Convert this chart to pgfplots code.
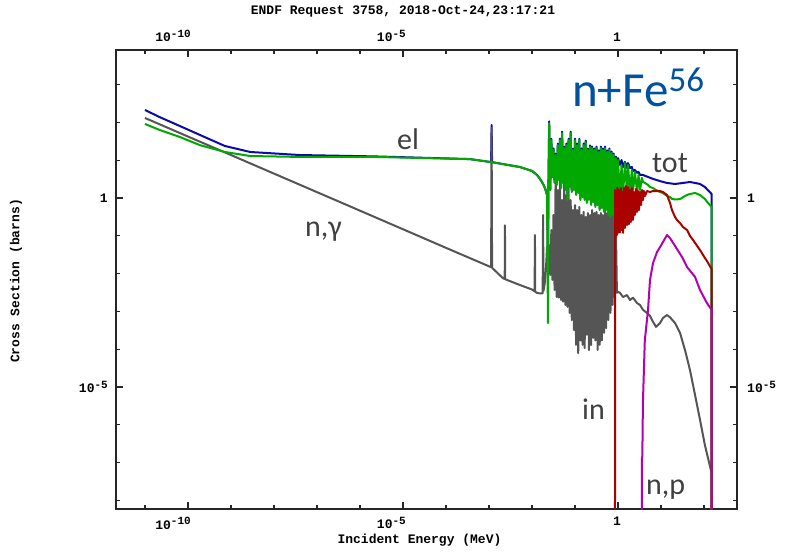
\documentclass[border=0pt]{standalone}
\usepackage{fontspec}
\usepackage{pgfplots}
\pgfplotsset{compat=1.18}
\setmainfont{Carlito}
\newfontfamily\monob{Liberation Mono}
\newfontfamily\calib{Carlito}
\definecolor{cblue}{RGB}{10,10,170}
\definecolor{cgreen}{RGB}{0,168,0}
\definecolor{cgray}{RGB}{85,85,85}
\definecolor{cred}{RGB}{170,0,0}
\definecolor{cmag}{RGB}{180,0,180}
\definecolor{ctext}{RGB}{64,64,64}
\definecolor{ctitle}{RGB}{0,82,158}
\newcommand{\ex}[1]{\raisebox{4.5pt}{\fontsize{11}{11}\selectfont #1}}
\begin{document}
\begin{tikzpicture}[x=1pt,y=1pt]
\path[use as bounding box] (0,0) rectangle (789,559);
\begin{axis}[
  at={(116pt,50pt)}, anchor=south west, scale only axis,
  width=621pt, height=459pt,
  xmode=log, ymode=log,
  xmin=2.12e-12, xmax=585, ymin=5.92e-9, ymax=8230,
  tick align=inside,
  xtick={1e-10,1e-5,1},
  xticklabels={10\ex{-10},10\ex{-5},1},
  ytick={1e-5,1},
  yticklabels={10\ex{-5},1},
  minor xtick={1e-11,1e-9,1e-8,1e-7,1e-6,1e-4,1e-3,1e-2,1e-1,10,100},
  minor ytick={1e-8,1e-7,1e-6,1e-4,1e-3,1e-2,1e-1,10,100,1000},
  major tick length=7pt, minor tick length=4.5pt,
  tick label style={font=\monob\bfseries\fontsize{13}{13}\selectfont, text=black},
  axis line style={line width=1.3pt, black!85},
  tick style={line width=1.1pt, black!85},
  xticklabel style={anchor=north east, xshift=3pt, yshift=-8pt, inner sep=0pt},
  yticklabel style={anchor=east, xshift=-8pt, inner sep=0pt},
  every axis plot/.append style={line width=2pt, line join=round},
]
% total
\addplot[cblue] coordinates {
(1e-11,213) (2.2e-11,138) (6.5e-11,80) (1.9e-10,46.5) (7.2e-10,23.8) (2.8e-9,16.5) (4e-8,13.7) (2.2e-6,12.6)
(3.6e-4,10.7) (1.05e-3,9.0) (1.12e-3,9.0) (1.15e-3,85) (1.18e-3,8.9) (2.1e-3,7.9) (5.2e-3,6.6)
(1e-2,5.2) (1.31e-2,4.06) (1.54e-2,3.2) (1.81e-2,2.35) (2.0e-2,1.84) (2.24e-2,1.2) (2.35e-2,0.016) (2.42e-2,3.2)
(0.02512,106) (0.02661,1.7) (0.02818,37) (0.02985,3.7) (0.03162,20.5) (0.0335,2.6) (0.03548,15) (0.03758,2.3)
(0.03981,27.5) (0.04217,3.1) (0.04467,37) (0.04732,1.9) (0.05012,57) (0.05309,2.6) (0.05623,23) (0.05957,1.7)
(0.0631,27.5) (0.06683,0.95) (0.07079,37) (0.07499,2.0) (0.07943,57) (0.08414,1.5) (0.08913,20.5) (0.09441,1.7)
(0.1,37) (0.1059,1.25) (0.1122,27.5) (0.1189,1.4) (0.1259,37) (0.1334,0.95) (0.1413,20.5) (0.1496,1.1)
(0.1585,27.5) (0.1679,0.95) (0.1778,33) (0.1884,0.8) (0.1995,20.5) (0.2113,0.95) (0.2239,24.6) (0.2371,0.7)
(0.2512,23) (0.2661,0.85) (0.2818,20.5) (0.2985,0.63) (0.3162,23) (0.335,0.7) (0.3548,18.2) (0.3758,0.52)
(0.3981,23) (0.4217,0.58) (0.4467,20.5) (0.4732,0.47) (0.5012,23) (0.5309,0.52) (0.5623,18.2) (0.5957,0.4)
(0.631,20.5) (0.6683,0.35) (0.7079,17) (0.7499,0.4) (0.7943,15) (0.8414,0.3) (0.8913,12.5) (0.9441,0.28) (1.0,11.4)
(1.11,7.5) (1.21,10.1) (1.31,6.6) (1.45,9.0) (1.62,6.2) (1.71,8.4) (1.90,6.2) (2.1,6.6) (2.23,5.2) (2.48,5.5)
(2.77,4.6) (3.0,4.9) (3.25,4.06) (3.81,4.06) (4.99,3.6) (6.52,3.2) (9.48,2.8) (13.8,2.5) (21.2,2.35) (32.5,2.5)
(47.2,2.65) (61.8,2.5) (80.7,2.35) (105,1.95) (150,1.28) (150,1e-10)
};
% capture
\addplot[cgray] coordinates {
(1e-11,131) (1e-10,42.3) (1e-9,13.7) (1e-8,4.42) (1e-7,1.43) (1e-6,0.462) (1e-5,0.149) (1e-4,0.048) (1e-3,0.0156)
(1.12e-3,0.0148) (1.15e-3,71) (1.18e-3,0.0142) (2.1e-3,0.0076) (2.32e-3,0.0072) (2.35e-3,0.19) (2.38e-3,0.0071)
(5.2e-3,0.005) (1.0e-2,0.0038) (1.15e-2,0.0034) (1.17e-2,0.105) (1.19e-2,0.0033) (1.31e-2,0.0031) (1.5e-2,0.003)
(1.77e-2,0.003) (1.81e-2,0.355) (1.85e-2,0.0035) (2.0e-2,0.006) (2.1e-2,0.012) (2.24e-2,0.05) (2.35e-2,0.015)
(0.02512,0.057) (0.02661,0.0091) (0.02818,0.142) (0.02985,0.0068) (0.03162,0.355) (0.0335,0.0037) (0.03548,4.6) (0.03758,0.0024)
(0.03981,1.63) (0.04217,0.0023) (0.04467,3.0) (0.04732,0.002) (0.05012,0.885) (0.05309,0.0018) (0.05623,2.5) (0.05957,0.00148)
(0.0631,1.2) (0.06683,0.00131) (0.07079,2.2) (0.07499,0.00091) (0.07943,0.885) (0.08414,0.00059) (0.08913,0.48) (0.09441,0.00032)
(0.1,0.65) (0.1059,0.00013) (0.1122,0.48) (0.1189,7.9e-5) (0.1259,0.58) (0.1334,0.00017) (0.1413,0.355) (0.1496,0.00013)
(0.1585,0.43) (0.1679,0.000107) (0.1778,0.315) (0.1884,0.00024) (0.1995,0.4) (0.2113,9.5e-5) (0.2239,0.355) (0.2371,0.00013)
(0.2512,0.48) (0.2661,0.0002) (0.2818,0.4) (0.2985,0.00017) (0.3162,0.43) (0.335,9.5e-5) (0.3548,0.355) (0.3758,0.00013)
(0.3981,0.4) (0.4217,0.00017) (0.4467,0.355) (0.4732,0.00027) (0.5012,0.48) (0.5309,0.00036) (0.5623,0.4) (0.5957,0.00059)
(0.631,0.65) (0.6683,0.00091) (0.7079,0.74) (0.7499,0.00148) (0.7943,0.355) (0.8414,0.0023) (0.8913,0.193) (0.9441,0.0031) (1.0,0.0033)
(1.11,0.0031) (1.31,0.0024) (1.62,0.0027) (1.90,0.002) (2.23,0.0023) (2.77,0.00166) (3.25,0.00148) (3.81,0.0011)
(4.72,0.00091) (5.55,0.00076) (6.52,0.00053) (7.65,0.00039) (9.48,0.00049) (11.1,0.00067) (13.8,0.0008) (16.2,0.0007)
(21.2,0.00049) (27.7,0.00027) (36.1,9.5e-5) (47.2,2.8e-5) (61.8,6.2e-6) (80.7,1.35e-6) (105,2.9e-7) (150,5.3e-8) (150,1e-10)
};
% elastic
\addplot[cgreen] coordinates {
(1e-11,91) (2.2e-11,63) (6.5e-11,41) (1.9e-10,25) (7.2e-10,16.5) (2.8e-9,12.9) (4e-8,12.2) (2.2e-6,12.2)
(3.6e-4,10.7) (1.05e-3,9.0) (2.1e-3,7.9) (5.2e-3,6.6) (1e-2,5.2) (1.31e-2,4.06) (1.54e-2,3.2) (1.81e-2,2.35)
(2e-2,1.84) (2.24e-2,1.2) (2.35e-2,4.9e-4) (2.42e-2,3.0)
(0.02512,96) (0.02661,1.63) (0.02818,34) (0.02985,3.6) (0.03162,18.6) (0.0335,2.5) (0.03548,13.7) (0.03758,2.2)
(0.03981,25) (0.04217,3.0) (0.04467,34) (0.04732,1.84) (0.05012,52) (0.05309,2.5) (0.05623,21) (0.05957,1.63)
(0.0631,25) (0.06683,0.885) (0.07079,34) (0.07499,1.95) (0.07943,52) (0.08414,1.44) (0.08913,18.6) (0.09441,1.63)
(0.1,34) (0.1059,1.2) (0.1122,25) (0.1189,1.36) (0.1259,34) (0.1334,0.885) (0.1413,18.6) (0.1496,1.06)
(0.1585,25) (0.1679,0.885) (0.1778,30) (0.1884,0.74) (0.1995,18.6) (0.2113,0.885) (0.2239,22.4) (0.2371,0.65)
(0.2512,21) (0.2661,0.78) (0.2818,18.6) (0.2985,0.58) (0.3162,21) (0.335,0.65) (0.3548,16.5) (0.3758,0.48)
(0.3981,21) (0.4217,0.54) (0.4467,18.6) (0.4732,0.43) (0.5012,21) (0.5309,0.48) (0.5623,16.5) (0.5957,0.355)
(0.631,18.6) (0.6683,0.315) (0.7079,15.5) (0.7499,0.355) (0.7943,13.7) (0.8414,0.262) (0.8913,11.4) (0.9441,0.24) (1.0,10.1)
(1.11,1.2) (1.21,7.5) (1.31,1.2) (1.45,8.4) (1.62,1.44) (1.71,7.5) (1.90,1.44) (2.1,5.5) (2.23,1.44) (2.48,4.9)
(2.77,1.44) (3.0,4.06) (3.25,1.63) (3.6,3.4) (3.81,2.65) (4.25,2.5) (4.99,2.2) (5.55,1.95) (6.52,1.84) (7.65,1.63)
(9.48,1.44) (11.1,1.36) (13.8,1.13) (16.2,1.06) (18,0.94) (21.2,0.92) (23.5,0.92) (27.7,0.94) (32.5,1.05) (36.1,1.13)
(40.3,1.2) (47.2,1.28) (55.5,1.32) (61.8,1.36) (80.7,1.2) (105,0.94) (117,0.8) (150,0.58) (150,1e-10)
};
% inelastic
\addplot[cred] coordinates {
(0.851,1e-10) (0.853,1.63) (0.88,0.093) (0.91,1.44) (0.94,0.105) (0.97,1.84) (1.0,0.119) (1.05,1.63) (1.11,0.122)
(1.16,1.84) (1.21,0.142) (1.26,1.44) (1.31,0.119) (1.38,1.84) (1.45,0.161) (1.53,2.07) (1.62,0.193) (1.71,1.95)
(1.80,0.205) (1.90,1.63) (2.0,0.232) (2.1,1.84) (2.23,0.262) (2.35,1.44) (2.48,0.355) (2.62,1.74) (2.77,0.43)
(2.92,1.53) (3.07,0.48) (3.25,1.44) (3.43,0.65) (3.61,1.63) (3.81,0.885) (4.0,1.53) (4.25,1.13) (4.72,1.53)
(5.55,1.44) (6.52,1.53) (7.65,1.53) (9.48,1.53) (11.1,1.44) (13.8,1.2) (16.2,0.74) (18.0,0.48) (21.2,0.315)
(23.5,0.262) (27.7,0.218) (32.5,0.171) (40.3,0.142) (47.2,0.099) (55.5,0.078) (61.8,0.065) (80.7,0.042)
(105,0.0259) (117,0.0216) (150,0.0132) (150,1e-10)
};
% (n,p)
\addplot[cmag] coordinates {
(3.61,1e-10) (3.61,1.3e-7) (3.68,1.5e-7) (3.8,4e-6) (4.2,1.7e-4) (4.99,0.0011) (5.55,0.0068) (6.52,0.019)
(8.07,0.037) (10.5,0.061) (13.8,0.105) (16.2,0.087) (21.2,0.054) (30.8,0.0275) (40.3,0.0149) (61.8,0.0082)
(80.7,0.0037) (117,0.00166) (150,0.0011) (150,1e-10)
};
\end{axis}
\begin{axis}[
  at={(116pt,50pt)}, anchor=south west, scale only axis,
  width=621pt, height=459pt,
  xmode=log, ymode=log,
  xmin=2.12e-12, xmax=585, ymin=5.92e-9, ymax=8230,
  xtick={1e-10,1e-5,1},
  xticklabels={10\ex{-10},10\ex{-5},1},
  ytick={1e-5,1},
  yticklabels={10\ex{-5},1},
  minor xtick={}, minor ytick={},
  tick label style={font=\monob\bfseries\fontsize{13}{13}\selectfont, text=black},
  xticklabel pos=upper, yticklabel pos=right,
  axis line style={draw=none}, tick style={draw=none},
  major tick length=0pt,
  xticklabel style={anchor=south east, xshift=3pt, yshift=8pt, inner sep=0pt},
  yticklabel style={anchor=west, xshift=10pt, inner sep=0pt},
]
\addplot[draw=none] coordinates {(1,1)};
\end{axis}
\node[anchor=center, font=\monob\bfseries\fontsize{13}{13}\selectfont] at (403,547) {ENDF Request 3758, 2018-Oct-24,23:17:21};
\node[anchor=center, font=\monob\bfseries\fontsize{13}{13}\selectfont] at (419.5,19) {Incident Energy (MeV)};
\node[anchor=center, rotate=90, font=\monob\bfseries\fontsize{13}{13}\selectfont] at (16,278) {Cross Section (barns)};
\node[anchor=base west, inner sep=0pt, text=ctitle, font=\calib\fontsize{49}{49}\selectfont] at (572,452) {n+Fe\raisebox{15pt}{\fontsize{35}{35}\selectfont 56}};
\begin{scope}[every node/.style={anchor=base west, inner sep=0pt, text=ctext, font=\calib\fontsize{30}{30}\selectfont}]
\node at (397,409) {el};
\node at (305,322) {n,γ};
\node at (652,386) {tot};
\node at (582,139) {in};
\node at (646,64) {n,p};
\end{scope}
\end{tikzpicture}
\end{document}
